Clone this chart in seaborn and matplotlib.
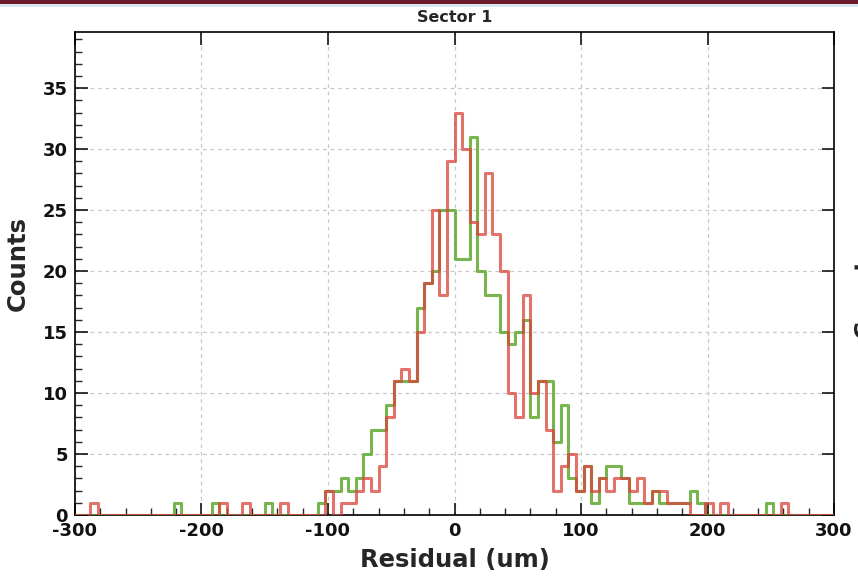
import numpy as np
import pandas as pd
import matplotlib
matplotlib.use("Agg")
import matplotlib.pyplot as plt
import seaborn as sns
from matplotlib.patches import Rectangle
from matplotlib.ticker import MultipleLocator

# ---- data (counts per 6 um bin, -300 .. 300 um) ----
x_min, x_max, n_bins = -300, 300, 100
title = "Sector 1"
x_label = "Residual (um)"
y_label = "Counts"

green_counts = [
    0, 0, 0, 0, 0, 0, 0, 0, 0, 0,
    0, 0, 0, 1, 0, 0, 0, 0, 1, 0,
    0, 0, 0, 0, 0, 1, 0, 0, 0, 0,
    0, 0, 1, 2, 2, 3, 2, 3, 5, 7,
    7, 9, 11, 11, 11, 17, 19, 20, 25, 25,
    21, 21, 31, 20, 18, 18, 15, 14, 15, 16,
    8, 11, 11, 6, 9, 3, 2, 4, 1, 3,
    4, 4, 3, 1, 1, 1, 2, 1, 1, 1,
    1, 2, 1, 0, 0, 0, 0, 0, 0, 0,
    0, 1, 0, 0, 0, 0, 0, 0, 0, 0,
]
red_counts = [
    0, 0, 1, 0, 0, 0, 0, 0, 0, 0,
    0, 0, 0, 0, 0, 0, 0, 0, 0, 1,
    0, 0, 1, 0, 0, 0, 0, 1, 0, 0,
    0, 0, 0, 2, 0, 1, 1, 2, 3, 2,
    4, 8, 11, 12, 11, 15, 19, 25, 18, 29,
    33, 30, 24, 23, 28, 23, 20, 10, 8, 18,
    10, 11, 7, 2, 4, 5, 2, 4, 2, 3,
    2, 3, 3, 2, 3, 1, 2, 2, 1, 1,
    1, 0, 0, 1, 0, 1, 0, 0, 0, 0,
    0, 0, 0, 1, 0, 0, 0, 0, 0, 0,
]

bin_width = (x_max - x_min) / n_bins
centers = x_min + bin_width * (np.arange(n_bins) + 0.5)
df_green = pd.DataFrame({"residual": centers, "count": green_counts})
df_red = pd.DataFrame({"residual": centers, "count": red_counts})

sns.set_style("white")
plt.rcParams["font.family"] = ["DejaVu Sans"]
plt.rcParams["axes.unicode_minus"] = False

fig = plt.figure(figsize=(8.58, 5.80), dpi=100)
fig.patch.set_facecolor("white")
ax = fig.add_axes([75 / 858, 1 - 515 / 580, (834 - 75) / 858, (515 - 32) / 580])

sns.histplot(data=df_green, x="residual", weights="count",
             binwidth=bin_width, binrange=(x_min, x_max),
             element="step", fill=False, color="#5fa82e",
             alpha=0.85, linewidth=2.2, ax=ax, zorder=3)
sns.histplot(data=df_red, x="residual", weights="count",
             binwidth=bin_width, binrange=(x_min, x_max),
             element="step", fill=False, color="#d9443a",
             alpha=0.75, linewidth=2.2, ax=ax, zorder=4)

ax.set_xlim(x_min, x_max)
ax.set_ylim(0, 39.6)
ax.xaxis.set_major_locator(MultipleLocator(100))
ax.xaxis.set_minor_locator(MultipleLocator(20))
ax.yaxis.set_major_locator(MultipleLocator(5))
ax.yaxis.set_minor_locator(MultipleLocator(1))

ax.grid(True, which="major", color="#c8c8c8", linestyle=(0, (3, 3)), linewidth=0.9)
ax.set_axisbelow(True)

for s in ax.spines.values():
    s.set_color("black")
    s.set_linewidth(1.2)

ax.tick_params(which="major", direction="in", length=9, width=1.1,
               top=True, right=True, bottom=True, left=True,
               labelsize=13, pad=5, colors="black")
ax.tick_params(which="minor", direction="in", length=5, width=1.0,
               top=False, right=False, bottom=True, left=True)
for lab in ax.get_xticklabels() + ax.get_yticklabels():
    lab.set_fontweight("bold")
    lab.set_color("#111111")

ax.set_xlabel(x_label, fontsize=17.5, fontweight="bold", labelpad=6)
ax.set_ylabel(y_label, fontsize=17.5, fontweight="bold")
ax.yaxis.set_label_coords(-45 / 759, 0.52)
ax.set_title(title, fontsize=11.5, fontweight="bold", pad=7)

# page decorations visible in the screenshot
fig.patches.append(Rectangle((0, 1 - 4 / 580), 1, 4 / 580, transform=fig.transFigure,
                             facecolor="#6b1a2a", edgecolor="none"))
fig.patches.append(Rectangle((0, 1 - 7 / 580), 1, 3 / 580, transform=fig.transFigure,
                             facecolor="#dde6f0", edgecolor="none"))
fig.text(853 / 858, 0.5, y_label, rotation=90, ha="left", va="center",
         fontsize=17.5, fontweight="bold", color="#222222")

fig.savefig("out.png", dpi=100)
